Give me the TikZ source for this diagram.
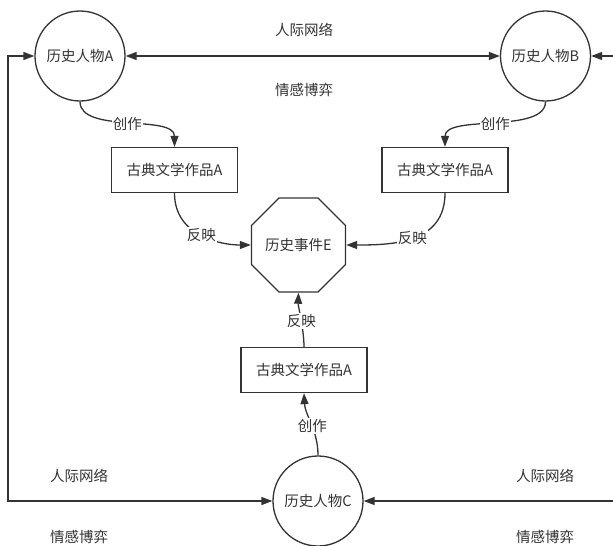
\documentclass[tikz,border=0pt]{standalone}
\usepackage{fontspec}
\setmainfont{Noto Sans CJK SC}
\usetikzlibrary{arrows.meta,shapes.geometric}
\definecolor{ink}{HTML}{333333}
\tikzset{
  person/.style={circle,draw=ink,line width=1.3pt,minimum size=90pt,inner sep=0pt,text=ink,font=\fontsize{14.5}{16}\selectfont},
  work/.style={rectangle,draw=ink,line width=1.3pt,minimum width=126pt,minimum height=45pt,inner sep=0pt,text=ink,font=\fontsize{14.5}{16}\selectfont},
  event/.style={regular polygon,regular polygon sides=8,draw=ink,line width=1.3pt,minimum size=98.5pt,inner sep=0pt,text=ink,font=\fontsize{14.5}{16}\selectfont},
  conn/.style={draw=ink,line width=1.3pt},
  tip/.style={-{Triangle[length=11pt,width=8pt]}},
  both/.style={{Triangle[length=11pt,width=8pt]}-{Triangle[length=11pt,width=8pt]}},
  lbl/.style={fill=white,inner sep=1pt,text=ink,font=\fontsize{14.5}{16}\selectfont},
  freelbl/.style={text=ink,font=\fontsize{14.5}{16}\selectfont}
}
\begin{document}
\begin{tikzpicture}[x=1pt,y=-1pt]
\useasboundingbox (0,0) rectangle (613,546);
\fill[white] (0,0) rectangle (613,546);
\node[person] (A) at (80,56) {历史人物A};
\node[person] (B) at (545.5,56) {历史人物B};
\node[person] (C) at (318,501) {历史人物C};
\node[work] (W1) at (174.5,170) {古典文学作品A};
\node[work] (W2) at (445,170) {古典文学作品A};
\node[work] (W3) at (304,370) {古典文学作品A};
\node[event] (E) at (298.5,245) {历史事件E};
\coordinate (LT) at (8,56);
\coordinate (LB) at (8,501);
\coordinate (RT) at (620,56);
\coordinate (RB) at (620,501);
% relations
\draw[conn,both] (A.east) -- (B.west);
\draw[conn,both] (A.west) -- (LT) -- (LB) -- (C.west);
\draw[conn,both] (B.east) -- (RT) -- (RB) -- (C.east);
\node[freelbl] (t1) at (304,30) {人际网络};
\node[freelbl] (t2) at (304,90) {情感博弈};
\node[freelbl] (t3) at (79,476) {人际网络};
\node[freelbl] (t4) at (79,537) {情感博弈};
\node[freelbl] (t5) at (545,476) {人际网络};
\node[freelbl] (t6) at (545,537) {情感博弈};
% creation
\draw[conn,tip] (A.south) .. controls (80,134) and (174.5,114) .. node[lbl,pos=0.5] {创作} (W1.north);
\draw[conn,tip] (B.south) .. controls (545.5,134) and (445,114) .. node[lbl,pos=0.5] {创作} (W2.north);
\draw[conn,tip] (C.north) .. controls (318,430) and (305,415) .. node[lbl,pos=0.45] {创作} (W3.south);
% reflection
\draw[conn,tip] (W1.south) .. controls (174.5,236) and (221,245) .. node[lbl,pos=0.5] {反映} (E.west);
\draw[conn,tip] (W2.south) .. controls (445,244) and (391,245) .. node[lbl,pos=0.5] {反映} (E.east);
\draw[conn,tip] (W3.north) .. controls (304,330) and (298,305) .. node[lbl,pos=0.45] {反映} (E.south);
\end{tikzpicture}
\end{document}
